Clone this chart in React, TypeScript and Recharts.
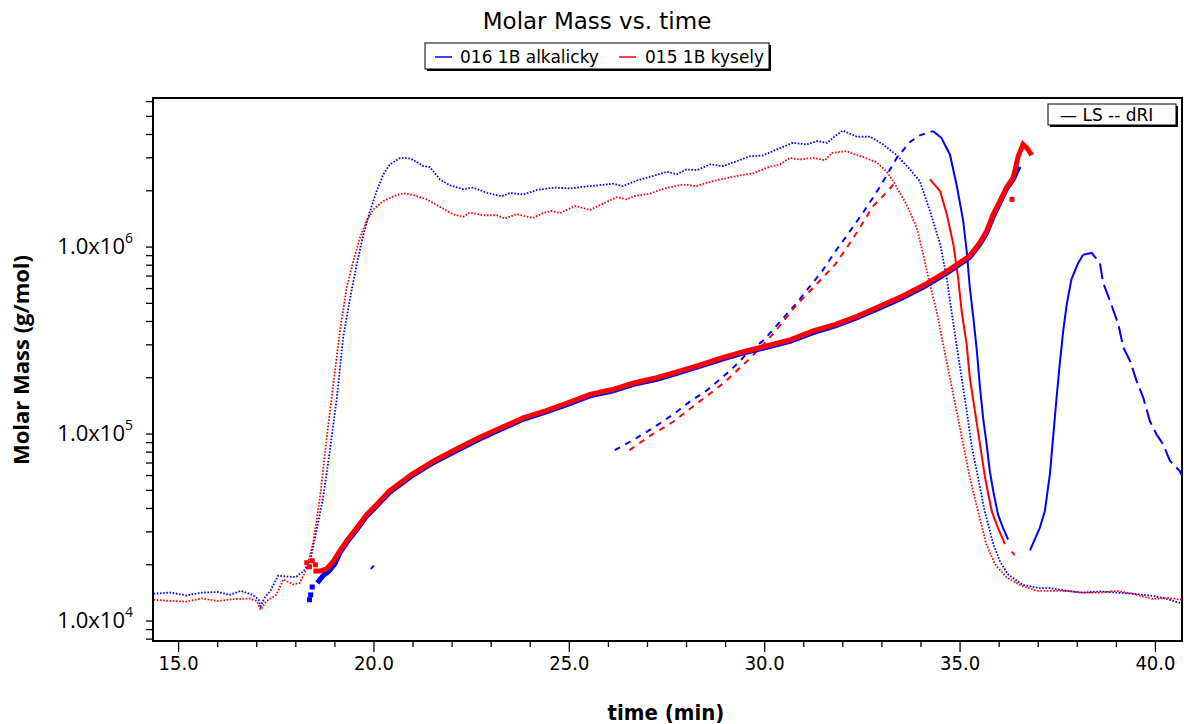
import React from "react"
import { ComposedChart, Line, XAxis, YAxis, ReferenceArea } from "recharts"

type Pt = [number, number]

// time (min) vs molar mass (g/mol)
const blueSignal: Pt[] = [
  [14.36, 1.4e4], [14.8, 1.42e4], [15.2, 1.37e4], [15.6, 1.42e4], [16.0, 1.43e4], [16.3, 1.38e4],
  [16.6, 1.45e4], [16.9, 1.38e4], [17.05, 1.3e4], [17.1, 1.2e4], [17.2, 1.33e4], [17.35, 1.45e4],
  [17.55, 1.75e4], [17.75, 1.73e4], [18.0, 1.72e4], [18.2, 1.85e4], [18.37, 2.1e4], [18.53, 3.05e4],
  [18.7, 4.6e4], [18.87, 8.1e4], [19.05, 1.56e5], [19.21, 3.27e5], [19.39, 5.35e5], [19.56, 8.1e5],
  [19.73, 1.17e6], [19.9, 1.56e6], [20.07, 1.99e6], [20.24, 2.45e6], [20.41, 2.77e6], [20.67, 3.0e6],
  [20.92, 2.98e6], [21.1, 2.85e6], [21.26, 2.71e6], [21.43, 2.68e6], [21.69, 2.3e6], [21.94, 2.14e6],
  [22.28, 2.04e6], [22.53, 2.08e6], [22.9, 1.95e6], [23.27, 1.87e6], [23.48, 1.95e6], [23.82, 1.91e6],
  [24.17, 2.02e6], [24.63, 2.08e6], [25.02, 2.06e6], [25.53, 2.12e6], [26.12, 2.18e6], [26.37, 2.12e6],
  [26.73, 2.27e6], [27.14, 2.4e6], [27.5, 2.53e6], [27.75, 2.45e6], [28.0, 2.6e6], [28.27, 2.58e6],
  [28.6, 2.77e6], [28.93, 2.71e6], [29.29, 2.88e6], [29.62, 3.06e6], [29.96, 3.09e6], [30.31, 3.33e6],
  [30.72, 3.61e6], [31.08, 3.54e6], [31.34, 3.69e6], [31.6, 3.61e6], [31.8, 3.92e6], [32.0, 4.2e6],
  [32.36, 3.89e6], [32.7, 3.89e6], [33.03, 3.54e6], [33.38, 3.1e6], [33.72, 2.6e6], [33.97, 2.25e6],
  [34.23, 1.56e6], [34.49, 1.04e6], [34.66, 6.85e5], [34.78, 4.55e5], [34.91, 3.0e5], [35.04, 2.0e5],
  [35.17, 1.33e5], [35.29, 8.8e4], [35.46, 5.85e4], [35.63, 3.87e4], [35.85, 2.58e4], [36.02, 2.09e4],
  [36.22, 1.78e4], [36.61, 1.56e4], [37.04, 1.5e4], [37.3, 1.5e4], [37.73, 1.45e4], [38.15, 1.42e4],
  [38.6, 1.44e4], [39.0, 1.42e4], [39.4, 1.4e4], [39.85, 1.37e4], [40.2, 1.33e4], [40.68, 1.24e4],
]

const redSignal: Pt[] = [
  [14.36, 1.3e4], [14.8, 1.28e4], [15.2, 1.27e4], [15.6, 1.32e4], [16.0, 1.28e4], [16.4, 1.31e4],
  [16.8, 1.32e4], [17.0, 1.28e4], [17.1, 1.15e4], [17.25, 1.28e4], [17.5, 1.38e4], [17.68, 1.67e4],
  [17.93, 1.57e4], [18.1, 1.6e4], [18.28, 1.9e4], [18.45, 2.68e4], [18.62, 4.6e4], [18.79, 9.5e4],
  [18.96, 1.85e5], [19.13, 3.56e5], [19.3, 6.06e5], [19.47, 8.4e5], [19.64, 1.12e6], [19.81, 1.38e6],
  [19.98, 1.59e6], [20.24, 1.76e6], [20.5, 1.87e6], [20.75, 1.94e6], [21.0, 1.9e6], [21.35, 1.8e6],
  [21.69, 1.64e6], [22.02, 1.5e6], [22.28, 1.45e6], [22.45, 1.53e6], [22.79, 1.48e6], [23.14, 1.48e6],
  [23.35, 1.42e6], [23.65, 1.5e6], [24.07, 1.43e6], [24.33, 1.52e6], [24.55, 1.56e6], [24.76, 1.52e6],
  [25.15, 1.66e6], [25.53, 1.58e6], [25.87, 1.71e6], [26.21, 1.85e6], [26.47, 1.8e6], [26.64, 1.87e6],
  [27.06, 1.93e6], [27.4, 2.05e6], [27.91, 2.16e6], [28.27, 2.12e6], [28.52, 2.21e6], [28.86, 2.3e6],
  [29.29, 2.4e6], [29.71, 2.48e6], [30.06, 2.66e6], [30.39, 2.77e6], [30.65, 3.0e6], [30.9, 2.94e6],
  [31.24, 3.0e6], [31.54, 2.91e6], [31.72, 3.19e6], [32.1, 3.26e6], [32.3, 3.13e6], [32.51, 3.04e6],
  [32.87, 2.83e6], [33.11, 2.55e6], [33.29, 2.25e6], [33.63, 1.69e6], [33.89, 1.27e6], [34.06, 9.1e5],
  [34.23, 6.3e5], [34.4, 4.55e5], [34.57, 3.0e5], [34.74, 2.0e5], [34.91, 1.33e5], [35.08, 8.8e4],
  [35.25, 5.85e4], [35.46, 3.87e4], [35.67, 2.58e4], [35.89, 2.02e4], [36.19, 1.71e4], [36.53, 1.56e4],
  [36.96, 1.45e4], [37.38, 1.45e4], [37.73, 1.45e4], [38.07, 1.42e4], [38.58, 1.42e4], [39.0, 1.45e4],
  [39.42, 1.4e4], [39.94, 1.31e4], [40.29, 1.33e4], [40.68, 1.3e4],
]

const blueMolar: Pt[] = [
  [18.55, 1.6e4], [18.7, 1.75e4], [18.85, 1.85e4], [19.0, 2.02e4], [19.13, 2.32e4], [19.3, 2.62e4],
  [19.56, 3.08e4], [19.81, 3.63e4], [20.07, 4.12e4], [20.39, 4.85e4], [20.96, 5.95e4], [21.53, 7.05e4],
  [22.1, 8.12e4], [22.68, 9.35e4], [23.25, 1.06e5], [23.82, 1.2e5], [24.39, 1.31e5], [24.96, 1.44e5],
  [25.53, 1.6e5], [26.1, 1.7e5], [26.67, 1.85e5], [27.24, 1.96e5], [27.82, 2.13e5], [28.39, 2.32e5],
  [28.96, 2.53e5], [29.53, 2.74e5], [30.1, 2.93e5], [30.67, 3.14e5], [31.24, 3.49e5], [31.81, 3.79e5],
  [32.38, 4.2e5], [32.96, 4.74e5], [33.53, 5.35e5], [34.1, 6.16e5], [34.67, 7.28e5], [35.24, 8.78e5],
  [35.5, 1.03e6], [35.68, 1.19e6], [35.85, 1.46e6], [36.02, 1.73e6], [36.19, 2.05e6], [36.36, 2.3e6],
  [36.51, 2.7e6],
]

const redMolar: Pt[] = [
  [18.45, 1.85e4], [18.62, 1.85e4], [18.79, 1.9e4], [18.96, 2.09e4], [19.13, 2.38e4], [19.3, 2.68e4],
  [19.56, 3.15e4], [19.81, 3.7e4], [20.07, 4.2e4], [20.39, 4.95e4], [20.96, 6.07e4], [21.53, 7.18e4],
  [22.1, 8.3e4], [22.68, 9.55e4], [23.25, 1.08e5], [23.82, 1.22e5], [24.39, 1.33e5], [24.96, 1.47e5],
  [25.53, 1.63e5], [26.1, 1.73e5], [26.67, 1.88e5], [27.24, 2.0e5], [27.82, 2.17e5], [28.39, 2.36e5],
  [28.96, 2.58e5], [29.53, 2.78e5], [30.1, 2.98e5], [30.67, 3.2e5], [31.24, 3.56e5], [31.81, 3.86e5],
  [32.38, 4.28e5], [32.96, 4.84e5], [33.53, 5.47e5], [34.1, 6.3e5], [34.67, 7.44e5], [35.24, 8.95e5],
  [35.5, 1.05e6], [35.68, 1.22e6], [35.85, 1.5e6], [36.02, 1.76e6], [36.19, 2.08e6], [36.36, 2.35e6],
  [36.49, 3.07e6], [36.61, 3.54e6], [36.74, 3.33e6], [36.83, 3.1e6],
]

const blueStray: Pt[] = [[18.35, 1.3e4], [18.38, 1.38e4], [18.42, 1.52e4]]
const blueSpeck: Pt[] = [[19.92, 1.9e4], [20.0, 1.98e4]]
const redStray: Pt[] = [[18.28, 2.05e4], [18.35, 1.95e4], [18.42, 2.1e4], [18.5, 2.0e4], [36.33, 1.8e6]]

const blueDri: Pt[] = [
  [26.16, 8.2e4], [26.56, 9.1e4], [27.02, 1.04e5], [27.4, 1.17e5], [27.76, 1.32e5], [28.1, 1.5e5],
  [28.5, 1.7e5], [28.84, 1.95e5], [29.19, 2.26e5], [29.53, 2.67e5], [29.99, 3.2e5], [30.33, 3.86e5],
  [30.79, 4.94e5], [31.13, 6.06e5], [31.47, 7.44e5], [31.81, 9.5e5], [32.1, 1.15e6], [32.52, 1.53e6],
  [32.95, 2.1e6], [33.38, 3.0e6], [33.72, 3.65e6], [33.98, 3.97e6], [34.31, 4.17e6],
]

const blueLs: Pt[] = [
  [34.31, 4.17e6], [34.52, 3.84e6], [34.74, 3.13e6], [34.91, 2.16e6], [35.08, 1.38e6], [35.17, 9.5e5],
  [35.25, 6.06e5], [35.34, 4.18e5], [35.43, 2.78e5], [35.51, 1.77e5], [35.59, 1.22e5], [35.68, 8.8e4],
  [35.76, 6.35e4], [35.85, 4.95e4], [35.97, 3.72e4], [36.1, 3.15e4], [36.23, 2.73e4],
]

const bluePeakUp: Pt[] = [
  [36.79, 2.39e4], [37.04, 3.15e4], [37.17, 3.87e4], [37.3, 6.12e4], [37.38, 9.55e4], [37.47, 1.56e5],
  [37.55, 2.36e5], [37.64, 3.56e5], [37.73, 4.94e5], [37.85, 6.72e5], [38.02, 8.2e5], [38.15, 9.1e5],
]

const bluePeakDown: Pt[] = [
  [38.15, 9.1e5], [38.37, 9.3e5], [38.58, 8.2e5], [38.66, 6.45e5], [38.84, 5.14e5], [39.05, 3.86e5],
  [39.18, 2.9e5], [39.35, 2.46e5], [39.52, 1.92e5], [39.69, 1.56e5], [39.86, 1.17e5], [40.03, 9.95e4],
  [40.2, 8.8e4], [40.37, 7.2e4], [40.62, 6.35e4], [40.68, 6.0e4],
]

const redDri: Pt[] = [
  [26.54, 8.2e4], [27.07, 9.8e4], [27.65, 1.16e5], [28.96, 1.88e5], [29.64, 2.56e5], [30.21, 3.42e5],
  [30.79, 4.84e5], [31.24, 6.06e5], [31.81, 8.1e5], [32.04, 9.5e5], [32.35, 1.19e6], [32.78, 1.66e6],
  [33.0, 1.85e6], [33.33, 2.2e6],
]

const redLs: Pt[] = [
  [34.23, 2.3e6], [34.49, 1.99e6], [34.66, 1.5e6], [34.83, 1.03e6], [34.95, 6.85e5], [35.04, 4.55e5],
  [35.17, 3.0e5], [35.25, 2.0e5], [35.38, 1.33e5], [35.51, 8.8e4], [35.64, 5.85e4], [35.81, 3.87e4],
  [35.97, 3.15e4], [36.15, 2.58e4],
]
const redLsTail: Pt[] = [[36.32, 2.35e4], [36.4, 2.25e4]]

const xTicks = [15, 16, 17, 18, 19, 20, 21, 22, 23, 24, 25, 26, 27, 28, 29, 30, 31, 32, 33, 34, 35, 36, 37, 38, 39, 40]
const yTicks = [
  8e3, 9e3, 1e4, 2e4, 3e4, 4e4, 5e4, 6e4, 7e4, 8e4, 9e4, 1e5, 2e5, 3e5, 4e5, 5e5, 6e5, 7e5, 8e5, 9e5,
  1e6, 2e6, 3e6, 4e6, 5e6, 6e6,
]
const xDomain: [number, number] = [14.345, 40.68]
const yDomain: [number, number] = [7820, 6.27e6]

const BLUE = "#0000ff"
const RED = "#ff0000"
const WIDE = "'DejaVu Sans', Verdana, sans-serif"
const NARROW = "'Liberation Sans Narrow', 'DejaVu Sans Condensed', sans-serif"
const UI = "'Open Sans', 'Noto Sans', sans-serif"

const rows = (pts: Pt[]) => pts.map(([t, m]) => ({ t, m }))

function XTick(props: any) {
  const { x, y, payload } = props
  const v = payload.value as number
  const major = v % 5 === 0
  return (
    <g>
      <line x1={x} x2={x} y1={y} y2={y + (major ? 11 : 6)} stroke="#000" strokeWidth={1.3} />
      {major && (
        <text x={x} y={y + 29} textAnchor="middle" fontSize={20} fontFamily={NARROW} fill="#000">
          {v.toFixed(1)}
        </text>
      )}
    </g>
  )
}

function YTick(props: any) {
  const { x, y, payload } = props
  const v = payload.value as number
  const e = Math.round(Math.log10(v))
  const major = Math.abs(v - Math.pow(10, e)) < 1
  return (
    <g>
      <line x1={x - 7} x2={x} y1={y} y2={y} stroke="#000" strokeWidth={1.3} />
      {major && (
        <text x={x - 20} y={y + 7} textAnchor="end" fontSize={22} fontFamily={UI} fill="#000">
          1.0x10<tspan dy={-11} fontSize={14}>{e}</tspan>
        </text>
      )}
    </g>
  )
}

const square = (color: string) => (p: any) => (
  <rect key={p.index} x={p.cx - 2.5} y={p.cy - 2.5} width={5} height={5} fill={color} />
)

export default function App() {
  return (
    <div style={{ position: "fixed", left: 0, top: 0, width: 1184, height: 724, background: "#fff" }}>
      <ComposedChart width={1184} height={724} margin={{ top: 98, right: 2, bottom: 43, left: 53 }}>
        <XAxis
          type="number"
          dataKey="t"
          domain={xDomain}
          allowDataOverflow
          ticks={xTicks}
          interval={0}
          tick={<XTick />}
          tickLine={false}
          tickSize={0}
          tickMargin={0}
          axisLine={{ stroke: "#000", strokeWidth: 2 }}
          height={40}
        />
        <YAxis
          type="number"
          scale="log"
          domain={yDomain}
          allowDataOverflow
          ticks={yTicks}
          interval={0}
          tick={<YTick />}
          tickLine={false}
          tickSize={0}
          tickMargin={0}
          axisLine={{ stroke: "#000", strokeWidth: 2 }}
          width={100}
        />
        <ReferenceArea
          x1={xDomain[0]}
          x2={xDomain[1]}
          y1={yDomain[0]}
          y2={yDomain[1]}
          fill="none"
          stroke="#000"
          strokeWidth={2}
          fillOpacity={0}
        />
        <Line data={rows(blueSignal)} dataKey="m" stroke={BLUE} strokeWidth={1.8} strokeDasharray="1.6 1.6" dot={false} isAnimationActive={false} />
        <Line data={rows(redSignal)} dataKey="m" stroke={RED} strokeWidth={1.8} strokeDasharray="1.6 1.6" dot={false} isAnimationActive={false} />
        <Line data={rows(blueDri)} dataKey="m" stroke={BLUE} strokeWidth={2} strokeDasharray="6 6" dot={false} isAnimationActive={false} />
        <Line data={rows(redDri)} dataKey="m" stroke={RED} strokeWidth={2} strokeDasharray="6 6" dot={false} isAnimationActive={false} />
        <Line data={rows(blueLs)} dataKey="m" stroke={BLUE} strokeWidth={2} dot={false} isAnimationActive={false} />
        <Line data={rows(redLs)} dataKey="m" stroke={RED} strokeWidth={2} dot={false} isAnimationActive={false} />
        <Line data={rows(redLsTail)} dataKey="m" stroke={RED} strokeWidth={2} dot={false} isAnimationActive={false} />
        <Line data={rows(bluePeakUp)} dataKey="m" stroke={BLUE} strokeWidth={2} dot={false} isAnimationActive={false} />
        <Line data={rows(bluePeakDown)} dataKey="m" stroke={BLUE} strokeWidth={2} strokeDasharray="16 6" dot={false} isAnimationActive={false} />
        <Line data={rows(blueSpeck)} dataKey="m" stroke={BLUE} strokeWidth={2} dot={false} isAnimationActive={false} />
        <Line data={rows(blueMolar)} dataKey="m" stroke={BLUE} strokeWidth={5} dot={false} isAnimationActive={false} />
        <Line data={rows(blueStray)} dataKey="m" stroke="none" dot={square(BLUE)} isAnimationActive={false} />
        <Line data={rows(redMolar)} dataKey="m" stroke={RED} strokeWidth={5} dot={false} isAnimationActive={false} />
        <Line data={rows(redStray)} dataKey="m" stroke="none" dot={square(RED)} isAnimationActive={false} />
      </ComposedChart>
      <svg width={1184} height={724} style={{ position: "absolute", left: 0, top: 0, pointerEvents: "none" }}>
        <text x={597} y={29} textAnchor="middle" fontSize={23} fontFamily={WIDE} fill="#000">Molar Mass vs. time</text>
        <rect x={427} y={45} width={344} height={26} fill="#000" />
        <rect x={425} y={43} width={344} height={26} fill="#fff" stroke="#000" strokeWidth={1} />
        <line x1={435} x2={452} y1={57} y2={57} stroke={BLUE} strokeWidth={1.5} />
        <text x={460} y={63} fontSize={17} fontFamily={WIDE} fill="#000">016 1B alkalicky</text>
        <line x1={619} x2={636} y1={57} y2={57} stroke={RED} strokeWidth={1.5} />
        <text x={645} y={63} fontSize={17} fontFamily={WIDE} fill="#000">015 1B kysely</text>
        <rect x={1050} y={106} width={128} height={21} fill="#000" />
        <rect x={1048} y={104} width={128} height={21} fill="#fff" stroke="#000" strokeWidth={1} />
        <text x={1060} y={121} fontSize={17} fontFamily={WIDE} fill="#000">— LS -- dRI</text>
        <text x={0} y={0} transform="translate(29 360) rotate(-90)" textAnchor="middle" fontSize={22} fontWeight="bold" fontFamily={UI} fill="#000">
          Molar Mass (g/mol)
        </text>
        <text x={666} y={720} textAnchor="middle" fontSize={22} fontWeight="bold" fontFamily={NARROW} fill="#000">time (min)</text>
      </svg>
    </div>
  )
}
